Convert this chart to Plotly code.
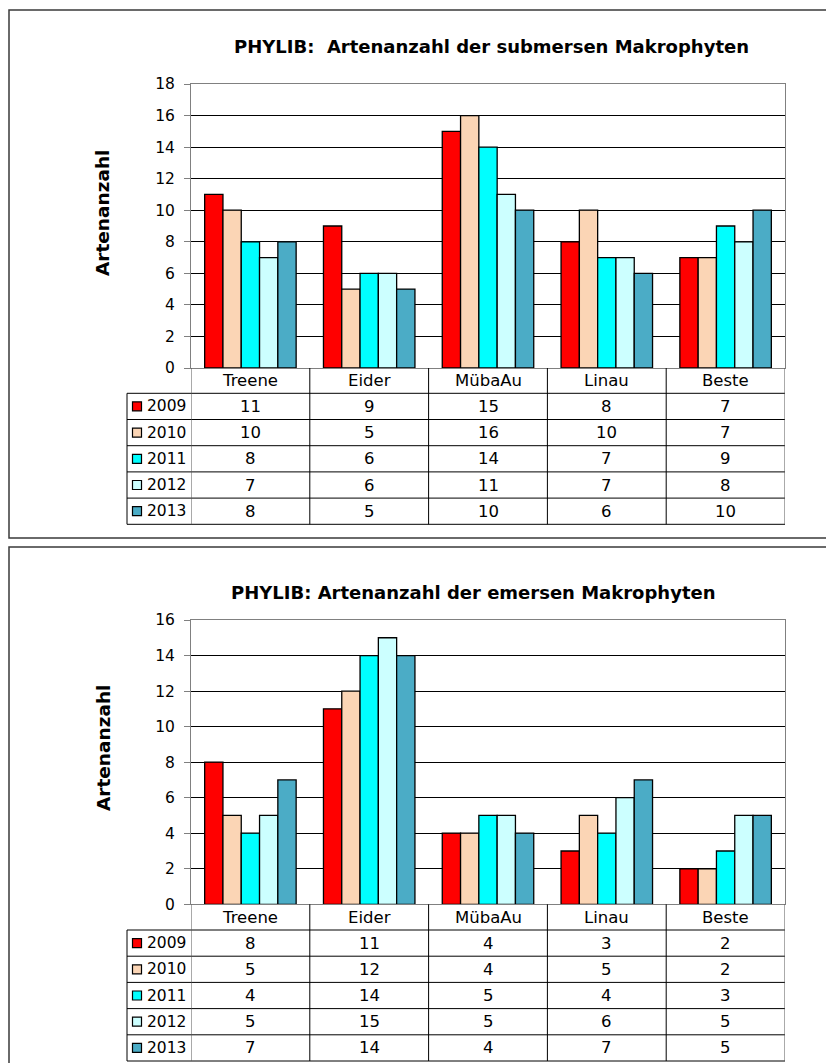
import plotly.graph_objects as go

W, H = 826, 1063

sites = ["Treene", "Eider", "MübaAu", "Linau", "Beste"]
years = ["2009", "2010", "2011", "2012", "2013"]
year_colors = ["#FF0000", "#FBD5B5", "#00FFFF", "#CCFFFF", "#4BACC6"]

# Submerse Makrophyten: Artenanzahl je Gewässer und Jahr
submers_2009 = [11, 9, 15, 8, 7]
submers_2010 = [10, 5, 16, 10, 7]
submers_2011 = [8, 6, 14, 7, 9]
submers_2012 = [7, 6, 11, 7, 8]
submers_2013 = [8, 5, 10, 6, 10]

# Emerse Makrophyten: Artenanzahl je Gewässer und Jahr
emers_2009 = [8, 11, 4, 3, 2]
emers_2010 = [5, 12, 4, 5, 2]
emers_2011 = [4, 14, 5, 4, 3]
emers_2012 = [5, 15, 5, 6, 5]
emers_2013 = [7, 14, 4, 7, 5]

submers = [submers_2009, submers_2010, submers_2011, submers_2012, submers_2013]
emers = [emers_2009, emers_2010, emers_2011, emers_2012, emers_2013]

FONT = "DejaVu Sans"


def px(x):
    return x / W


def py(y):
    return 1 - y / H


fig = go.Figure()
shapes = []
annotations = []

panels = [
    dict(
        series=submers, ymax=18, xa="x", ya="y",
        title="PHYLIB:  Artenanzahl der submersen Makrophyten",
        title_x=491, title_y=47, label_y=213,
        top=84, zero=368, header=393.3, row_h=26.2,
        frame=(9, 10, 832, 538),
    ),
    dict(
        series=emers, ymax=16, xa="x2", ya="y2",
        title="PHYLIB: Artenanzahl der emersen Makrophyten",
        title_x=473, title_y=592, label_y=748,
        top=620, zero=904.3, header=930, row_h=26.2,
        frame=(9, 547, 832, 1070),
    ),
]

LEFT, RIGHT, LEG_LEFT = 191, 785, 127
LINE = "#000000"

for k, p in enumerate(panels):
    for i, yr in enumerate(years):
        fig.add_trace(go.Bar(
            x=sites, y=p["series"][i], name=yr,
            marker=dict(color=year_colors[i], line=dict(color="#000000", width=1.3)),
            xaxis=p["xa"], yaxis=p["ya"], showlegend=False,
        ))

    suffix = "" if k == 0 else "2"
    fig.update_layout(**{
        "xaxis" + suffix: dict(
            domain=[px(LEFT), px(RIGHT)], anchor=p["ya"],
            range=[-0.5, 4.5], showticklabels=False, ticks="",
            showline=True, linecolor="#808080", linewidth=1, mirror=True,
            showgrid=False, fixedrange=True, automargin=False,
        ),
        "yaxis" + suffix: dict(
            domain=[py(p["zero"]), py(p["top"])], anchor=p["xa"],
            range=[0, p["ymax"]], dtick=2, tick0=0,
            ticks="outside", ticklen=6, tickcolor="#808080",
            showline=True, linecolor="#808080", linewidth=1, mirror=True,
            showgrid=True, gridcolor="#000000", gridwidth=1,
            zeroline=True, zerolinecolor="#000000", zerolinewidth=1,
            tickfont=dict(family=FONT, size=15.5, color="#000000"),
            ticklabelstandoff=6, fixedrange=True, automargin=False,
        ),
    })

    # chart frame
    fx0, fy0, fx1, fy1 = p["frame"]
    shapes.append(dict(type="rect", xref="paper", yref="paper",
                       x0=px(fx0), x1=px(fx1), y0=py(fy0), y1=py(fy1),
                       line=dict(color="#3a3a3a", width=1.5), layer="below"))

    # title and axis label
    annotations.append(dict(text="<b>" + p["title"] + "</b>", xref="paper", yref="paper",
                            x=px(p["title_x"]), y=py(p["title_y"]), showarrow=False,
                            xanchor="center", yanchor="middle",
                            font=dict(family=FONT, size=18, color="#000000")))
    annotations.append(dict(text="<b>Artenanzahl</b>", xref="paper", yref="paper",
                            x=px(103), y=py(p["label_y"]), showarrow=False, textangle=-90,
                            xanchor="center", yanchor="middle",
                            font=dict(family=FONT, size=18.5, color="#000000")))

    # data table below the plot
    rows = [p["header"] + j * p["row_h"] for j in range(len(years) + 1)]
    bottom = rows[-1]
    xref = p["xa"]
    for j, yline in enumerate(rows):
        shapes.append(dict(type="line", xref="paper", yref="paper",
                           x0=px(LEG_LEFT), x1=px(RIGHT), y0=py(yline), y1=py(yline),
                           line=dict(color=LINE, width=1)))
    shapes.append(dict(type="line", xref="paper", yref="paper",
                       x0=px(LEG_LEFT), x1=px(LEG_LEFT), y0=py(rows[0]), y1=py(bottom),
                       line=dict(color=LINE, width=1)))
    for c in range(len(sites) + 1):
        shapes.append(dict(type="line", xref=xref, yref="paper",
                           x0=c - 0.5, x1=c - 0.5, y0=py(p["zero"]), y1=py(bottom),
                           line=dict(color=LINE if 0 < c < len(sites) else "#555555", width=1)))

    for c, site in enumerate(sites):
        annotations.append(dict(text=site, xref=xref, yref="paper", x=c,
                                y=py((p["zero"] + rows[0]) / 2), showarrow=False,
                                xanchor="center", yanchor="middle",
                                font=dict(family=FONT, size=16.5, color="#000000")))
    for j, yr in enumerate(years):
        ymid = (rows[j] + rows[j + 1]) / 2
        for c in range(len(sites)):
            annotations.append(dict(text=str(p["series"][j][c]), xref=xref, yref="paper",
                                    x=c, y=py(ymid), showarrow=False,
                                    xanchor="center", yanchor="middle",
                                    font=dict(family=FONT, size=16.5, color="#000000")))
        # legend key square and year label
        shapes.append(dict(type="rect", xref="paper", yref="paper",
                           x0=px(132.5), x1=px(141.5), y0=py(ymid - 4.5), y1=py(ymid + 4.5),
                           fillcolor=year_colors[j], line=dict(color="#000000", width=1.2)))
        annotations.append(dict(text=yr, xref="paper", yref="paper",
                                x=px(145), y=py(ymid), showarrow=False,
                                xanchor="left", yanchor="middle",
                                font=dict(family=FONT, size=15.5, color="#000000")))

fig.update_layout(
    width=W, height=H,
    margin=dict(l=0, r=0, t=0, b=0, pad=0, autoexpand=False),
    paper_bgcolor="#FFFFFF", plot_bgcolor="#FFFFFF",
    barmode="group", bargap=0.23, bargroupgap=0,
    shapes=shapes, annotations=annotations,
    showlegend=False,
)

fig.write_html("out.html", config={"displayModeBar": False})
